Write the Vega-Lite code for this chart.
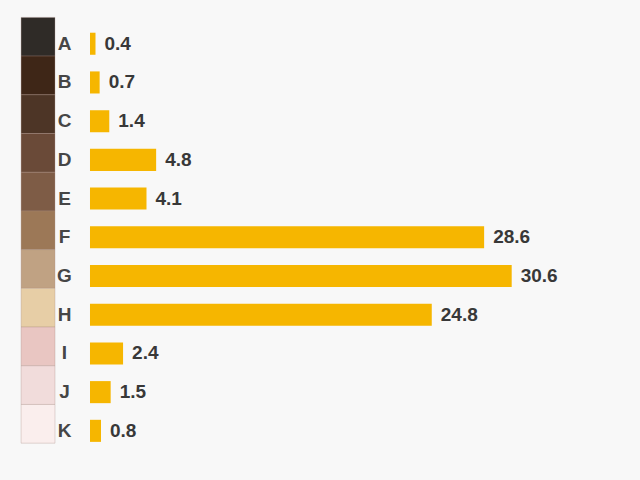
{
  "$schema": "https://vega.github.io/schema/vega-lite/v6.json",
  "autosize": {"type": "fit", "contains": "padding"},
  "width": 640,
  "height": 480,
  "padding": 0,
  "background": "#f8f8f8",
  "config": {"view": {"stroke": null}},
  "data": {
    "values": [
      {"cat": "A", "value": 0.4, "swatch": "#2f2b27"},
      {"cat": "B", "value": 0.7, "swatch": "#3e2617"},
      {"cat": "C", "value": 1.4, "swatch": "#4d3526"},
      {"cat": "D", "value": 4.8, "swatch": "#6a4a38"},
      {"cat": "E", "value": 4.1, "swatch": "#7e5c46"},
      {"cat": "F", "value": 28.6, "swatch": "#9c7857"},
      {"cat": "G", "value": 30.6, "swatch": "#c0a283"},
      {"cat": "H", "value": 24.8, "swatch": "#e7cea6"},
      {"cat": "I", "value": 2.4, "swatch": "#e9c6c2"},
      {"cat": "J", "value": 1.5, "swatch": "#f1dcdb"},
      {"cat": "K", "value": 0.8, "swatch": "#faeeed"}
    ]
  },
  "encoding": {
    "y": {
      "field": "cat",
      "type": "nominal",
      "sort": null,
      "axis": null,
      "scale": {"paddingInner": 0, "paddingOuter": 0.7, "align": 0.45}
    }
  },
  "layer": [
    {
      "mark": {"type": "rect", "yOffset": -7, "stroke": "#a88a82", "strokeWidth": 0.8, "strokeOpacity": 0.4},
      "encoding": {
        "x": {"datum": -5.0, "type": "quantitative", "scale": {"domain": [-6.53, 39.91], "nice": false, "zero": false}, "axis": null},
        "x2": {"datum": -2.54},
        "fill": {"field": "swatch", "type": "nominal", "scale": null}
      }
    },
    {
      "mark": {"type": "text", "align": "center", "baseline": "middle", "font": "Liberation Sans", "fontSize": 19, "fontWeight": "bold", "color": "#464646"},
      "encoding": {
        "x": {"datum": -1.85, "type": "quantitative"},
        "text": {"field": "cat"}
      }
    },
    {
      "mark": {"type": "bar", "color": "#f6b600", "height": {"band": 0.57}},
      "encoding": {
        "x": {"field": "value", "type": "quantitative"},
        "x2": {"datum": 0}
      }
    },
    {
      "mark": {"type": "text", "align": "left", "baseline": "middle", "dx": 9, "font": "Liberation Sans", "fontSize": 19, "fontWeight": "bold", "color": "#383838"},
      "encoding": {
        "x": {"field": "value", "type": "quantitative"},
        "text": {"field": "value", "type": "quantitative", "format": ".1f"}
      }
    }
  ]
}
